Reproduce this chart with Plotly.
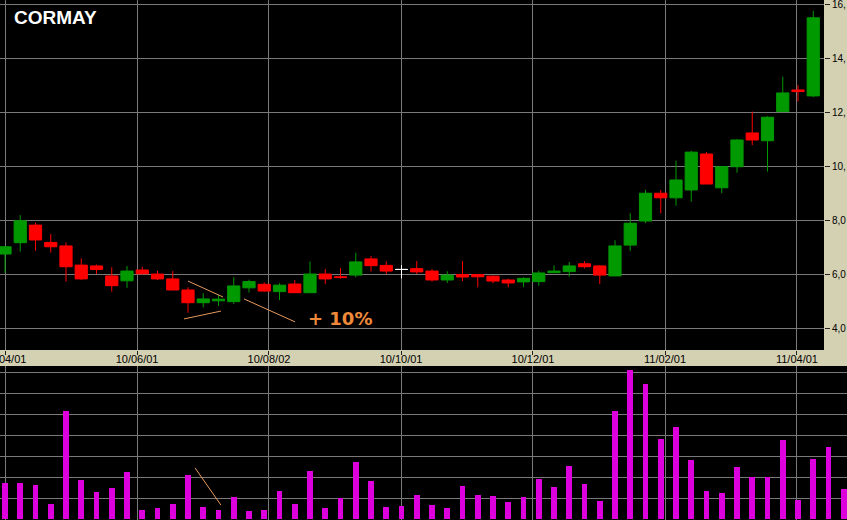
import plotly.graph_objects as go
import pandas as pd

# ---------------- data ----------------
OPEN = [6.75, 7.17, 7.82, 7.18, 7.05, 6.34, 6.31, 5.94, 5.76, 6.16,
        6.01, 5.83, 5.42, 4.95, 5.02, 4.99, 5.50, 5.63, 5.36, 5.64,
        5.32, 6.01, 5.91, 5.97, 6.57, 6.33, 6.18, 6.21, 6.12, 5.79,
        5.99, 5.99, 5.93, 5.79, 5.72, 5.73, 6.06, 6.10, 6.39, 6.31,
        5.94, 7.08, 7.97, 9.00, 8.83, 9.12, 10.45, 9.20, 9.98, 11.23,
        10.94, 12.02, 12.82, 12.60]
HIGH = [7.05, 8.19, 7.91, 7.49, 7.18, 6.59, 6.36, 6.26, 6.31, 6.28,
        6.13, 6.12, 5.52, 5.30, 5.23, 5.89, 5.80, 5.70, 5.67, 5.79,
        6.47, 6.20, 6.23, 6.80, 6.68, 6.49, 6.34, 6.49, 6.19, 6.11,
        6.49, 6.00, 5.96, 5.84, 5.89, 6.13, 6.33, 6.46, 6.49, 6.34,
        7.26, 8.26, 9.12, 9.12, 10.20, 10.57, 10.52, 10.00, 11.00, 12.02,
        11.85, 13.31, 13.00, 15.75]
LOW = [6.05, 6.84, 6.87, 6.80, 5.73, 5.79, 6.01, 5.36, 5.50, 6.00,
       5.79, 5.42, 4.58, 4.78, 4.83, 4.90, 5.33, 5.36, 5.05, 5.32,
       5.32, 5.64, 5.84, 5.89, 6.10, 6.01, 5.85, 6.01, 5.73, 5.68,
       5.75, 5.52, 5.67, 5.52, 5.52, 5.58, 6.05, 5.91, 6.22, 5.64,
       5.94, 6.87, 7.89, 8.26, 8.54, 8.69, 9.34, 9.00, 9.76, 10.78,
       9.80, 12.02, 12.39, 12.55]
CLOSE = [7.02, 7.98, 7.27, 7.02, 6.28, 5.83, 6.18, 5.58, 6.12, 6.02,
         5.83, 5.42, 4.95, 5.09, 5.08, 5.57, 5.73, 5.38, 5.60, 5.32,
         6.01, 5.83, 5.88, 6.46, 6.32, 6.12, 6.18, 6.09, 5.79, 5.97,
         5.90, 5.91, 5.75, 5.68, 5.85, 6.05, 6.12, 6.31, 6.28, 5.97,
         7.05, 7.89, 9.00, 8.83, 9.49, 10.52, 9.34, 9.98, 10.97, 10.97,
         11.81, 12.71, 12.76, 15.49]
VOLUME = [1.74, 1.74, 1.65, 0.74, 5.17, 1.89, 1.31, 1.50, 2.27, 0.46,
          0.55, 0.74, 2.12, 0.60, 0.46, 1.08, 0.41, 0.46, 1.36, 0.74,
          2.31, 0.55, 1.03, 2.74, 1.84, 0.60, 0.65, 1.17, 0.70, 0.55,
          1.60, 1.17, 1.12, 0.84, 1.08, 1.93, 1.55, 2.55, 1.70, 0.89,
          5.17, 7.12, 6.46, 3.84, 4.41, 2.84, 1.36, 1.27, 2.50, 2.00,
          2.00, 3.79, 0.93, 2.89, 3.46, 1.46]
TICK_LABELS = ["10/04/01", "10/06/01", "10/08/02", "10/10/01",
               "10/12/01", "11/02/01", "11/04/01"]
TICK_POS = [0, 8.66, 17.31, 25.97, 34.62, 43.28, 51.93]
PRICE_TICKS = [4, 6, 8, 10, 12, 14, 16]
PRICE_TICK_TEXT = ["4,0", "6,0", "8,0", "10,", "12,", "14,", "16,"]

df = pd.DataFrame({"o": OPEN, "h": HIGH, "l": LOW, "c": CLOSE})
df["x"] = range(len(df))
moving = df[df.o != df.c]
flat = df[df.o == df.c]
vol_x = list(range(len(VOLUME)))

GREEN = "#009900"
RED = "#FF0000"
MAGENTA = "#DC00DC"
GRID = "#7a7a7a"
BEIGE = "#D4D0B2"
ORANGE = "#F08A3A"
LINE_OR = "#E89A5C"

fig = go.Figure()
fig.add_trace(go.Candlestick(
    x=moving.x, open=moving.o, high=moving.h, low=moving.l, close=moving.c,
    increasing=dict(line=dict(color=GREEN, width=1), fillcolor=GREEN),
    decreasing=dict(line=dict(color=RED, width=1), fillcolor=RED),
    whiskerwidth=0, xaxis="x", yaxis="y", showlegend=False))
fig.add_trace(go.Candlestick(
    x=flat.x, open=flat.o, high=flat.h, low=flat.l, close=flat.c,
    increasing=dict(line=dict(color="white", width=1), fillcolor="white"),
    decreasing=dict(line=dict(color="white", width=1), fillcolor="white"),
    whiskerwidth=0, xaxis="x", yaxis="y", showlegend=False))
fig.add_trace(go.Bar(
    x=vol_x, y=VOLUME, width=0.39, marker=dict(color=MAGENTA, line=dict(width=0)),
    xaxis="x2", yaxis="y2", showlegend=False))

W, H = 847, 520
px_per = 15.25
x0 = -5 / px_per
price_right = 824
vol_top = 366
price_bottom = 350

fig.update_layout(
    width=W, height=H,
    margin=dict(l=0, r=0, t=0, b=0, autoexpand=False),
    paper_bgcolor=BEIGE, plot_bgcolor="black",
    hovermode=False, boxgap=0.2, boxgroupgap=0, bargap=0,
    font=dict(family="Liberation Sans, Arial", color="black"),
    xaxis=dict(domain=[0, price_right / W], range=[x0, (price_right - 5) / px_per],
               anchor="y", tickvals=TICK_POS, ticktext=TICK_LABELS,
               showgrid=True, gridcolor=GRID, gridwidth=1, zeroline=False,
               ticks="outside", ticklen=4, tickcolor="#222", tickwidth=1,
               tickfont=dict(size=11, color="black"), rangeslider=dict(visible=False),
               ticklabeloverflow="allow", ticklabelstandoff=-5,
               showline=False, fixedrange=True, automargin=False),
    yaxis=dict(domain=[1 - price_bottom / H, 1], range=[3.20, 16.148], side="right",
               anchor="x", tickvals=PRICE_TICKS, ticktext=PRICE_TICK_TEXT,
               showgrid=True, gridcolor=GRID, gridwidth=1, zeroline=False,
               ticks="outside", ticklen=5, tickcolor="#222", tickwidth=1,
               tickfont=dict(size=10, color="black"), showline=False,
               ticklabeloverflow="allow", automargin=False),
    xaxis2=dict(domain=[0, 1], range=[x0, (W - 5) / px_per], anchor="y2",
                tickvals=TICK_POS, showticklabels=False, showgrid=True,
                gridcolor=GRID, gridwidth=1, zeroline=False, ticks="",
                automargin=False),
    yaxis2=dict(domain=[0, (H - vol_top) / H], range=[-0.03, 7.30], anchor="x2",
                dtick=1, tick0=0, showticklabels=False, showgrid=True,
                gridcolor=GRID, gridwidth=1, zeroline=False, ticks="",
                automargin=False),
)

fig.add_annotation(text="<b>CORMAY</b>", xref="paper", yref="paper",
                   x=12 / W, y=1 - 18 / H, xanchor="left", yanchor="middle",
                   showarrow=False,
                   font=dict(family="Liberation Sans, Arial", size=19, color="white"))
fig.add_annotation(text="<b>+ 10%</b>", xref="x", yref="y", x=21.97, y=4.35,
                   xanchor="center", yanchor="middle", showarrow=False,
                   font=dict(family="DejaVu Sans", size=18, color=ORANGE))

line_style = dict(color=LINE_OR, width=1)
fig.add_shape(type="line", xref="x", yref="y", x0=12.0, y0=5.75, x1=14.30, y1=5.16, line=line_style)
fig.add_shape(type="line", xref="x", yref="y", x0=11.74, y0=4.35, x1=14.16, y1=4.64, line=line_style)
fig.add_shape(type="line", xref="x", yref="y", x0=15.67, y0=5.09, x1=19.02, y1=4.24, line=line_style)
fig.add_shape(type="line", xref="x2", yref="y2", x0=12.46, y0=2.45, x1=14.16, y1=0.68, line=line_style)

fig.write_html("out.html", config={"displayModeBar": False},
               post_script="document.body.style.margin='0';document.body.style.overflow='hidden';")
